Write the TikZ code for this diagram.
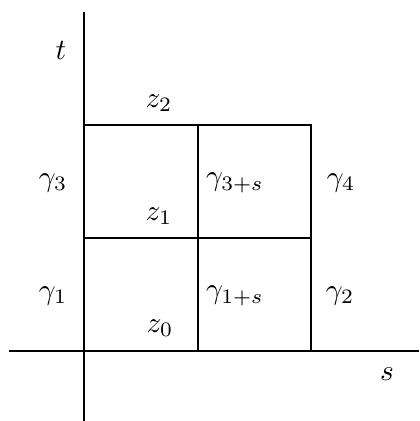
\documentclass[tikz,border=0pt]{standalone}
\begin{document}
\begin{tikzpicture}[x=0.34pt,y=-0.34pt,
  axis/.style={line width=0.7pt},
  grid/.style={line width=0.7pt},
  lbl/.style={inner sep=0pt}]
\useasboundingbox (0,0) rectangle (419,421);
% axes
\coordinate (ytop) at (84,12);
\coordinate (ybot) at (84,421);
\coordinate (xl) at (9,351);
\coordinate (xr) at (419,351);
\draw[axis] (ytop) -- (ybot);
\draw[axis] (xl) -- (xr);
% grid
\coordinate (a) at (84,125);
\coordinate (b) at (311,125);
\coordinate (c) at (84,238);
\coordinate (d) at (311,238);
\coordinate (e) at (198,125);
\coordinate (f) at (198,351);
\coordinate (g) at (311,351);
\draw[grid] (a) -- (b) -- (g);
\draw[grid] (c) -- (d);
\draw[grid] (e) -- (f);
% labels
\node[lbl] (t) at (61,50) {$t$};
\node[lbl] (s) at (387,374) {$s$};
\node[lbl] (z2) at (159,103) {$z_2$};
\node[lbl] (z1) at (159,216) {$z_1$};
\node[lbl] (z0) at (160,328) {$z_0$};
\node[lbl] (g3) at (53,183) {$\gamma_3$};
\node[lbl] (g3s) at (235,183) {$\gamma_{3+s}$};
\node[lbl] (g4) at (341,183) {$\gamma_4$};
\node[lbl] (g1) at (53,296) {$\gamma_1$};
\node[lbl] (g1s) at (235,296) {$\gamma_{1+s}$};
\node[lbl] (g2) at (340,296) {$\gamma_2$};
\end{tikzpicture}
\end{document}
